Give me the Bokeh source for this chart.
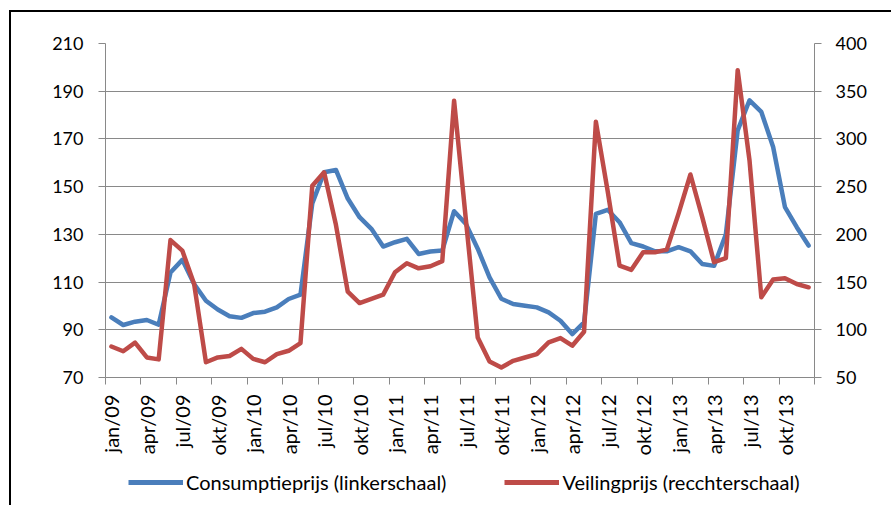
import math
from bokeh.plotting import figure
from bokeh.layouts import column
from bokeh.models import (Range1d, LinearAxis, FixedTicker, Legend, LegendItem)
from bokeh.embed import file_html
from bokeh.resources import INLINE

# ---- data (monthly, jan/09 .. dec/13) ----
consumptieprijs = [95.2, 92, 93.4, 94.1, 92.1, 114, 119.3, 109.2, 102.2, 98.5,
                   95.7, 95, 97, 97.6, 99.4, 102.9, 104.7, 143, 156, 157,
                   145, 137.2, 132.3, 124.9, 126.7, 128.1, 121.8, 122.8, 123.2, 139.7,
                   134.4, 124, 112, 103, 100.8, 100.1, 99.4, 97.3, 93.8, 88.2,
                   93.1, 138.6, 140.3, 135.1, 126.3, 124.9, 122.9, 122.9, 124.6, 122.9,
                   117.6, 116.8, 130, 173.6, 186.2, 181.3, 166.6, 141.4, 133, 125.3]
veilingprijs = [82.5, 77.5, 86.5, 71, 69, 194, 183, 148, 66, 71,
                72.5, 80, 69.5, 66, 74.5, 78, 86, 251, 265, 210,
                140, 128, 132.3, 136.8, 160.3, 169.7, 164.4, 166.6, 172, 340,
                215, 92, 66.8, 60.5, 67.5, 71, 74.5, 86.7, 91.3, 83.3,
                98, 318, 245, 167.3, 162.8, 181.3, 181.3, 184, 222, 262.7,
                218, 170.8, 175, 372, 277.5, 134, 152.6, 154, 148, 144.5]
tick_labels = ["jan/09", "apr/09", "jul/09", "okt/09",
               "jan/10", "apr/10", "jul/10", "okt/10",
               "jan/11", "apr/11", "jul/11", "okt/11",
               "jan/12", "apr/12", "jul/12", "okt/12",
               "jan/13", "apr/13", "jul/13", "okt/13"]
left_ticks = [70, 90, 110, 130, 150, 170, 190, 210]
right_ticks = [50, 100, 150, 200, 250, 300, 350, 400]
series_names = ["Consumptieprijs (linkerschaal)", "Veilingprijs (recchterschaal)"]

months = list(range(len(consumptieprijs)))
label_pos = [3 * k for k in range(len(tick_labels))]
boundary_pos = [3 * k - 0.5 for k in range(len(tick_labels) + 1)]

FONT = "Lato"
GRAY = "#898989"
BLUE = "#4A7EBB"
RED = "#BE4B48"

p = figure(width=880, height=450, output_backend="svg", toolbar_location=None,
           x_range=Range1d(-0.5, len(months) - 0.5), y_range=Range1d(70, 210),
           min_border_left=94, min_border_right=77, min_border_top=31, min_border_bottom=85,
           x_axis_location=None, y_axis_location=None)
p.outline_line_color = None
p.extra_y_ranges = {"right": Range1d(50, 400)}

# x axis
xaxis = LinearAxis(ticker=FixedTicker(ticks=label_pos, minor_ticks=boundary_pos))
xaxis.major_label_overrides = {pos: lab for pos, lab in zip(label_pos, tick_labels)}
xaxis.major_tick_out = 0
xaxis.major_tick_in = 0
xaxis.minor_tick_out = 7
xaxis.minor_tick_in = 0
xaxis.minor_tick_line_color = GRAY
xaxis.axis_line_color = GRAY
xaxis.major_label_orientation = math.pi / 2
xaxis.major_label_standoff = 10
xaxis.major_label_text_font = FONT
xaxis.major_label_text_font_size = "20px"
xaxis.major_label_text_color = "black"
p.add_layout(xaxis, "below")

# left axis
yaxis = LinearAxis(ticker=FixedTicker(ticks=left_ticks))
yaxis.major_tick_out = 7
yaxis.major_tick_in = 0
yaxis.minor_tick_line_color = None
yaxis.major_tick_line_color = GRAY
yaxis.axis_line_color = GRAY
yaxis.major_label_standoff = 15
yaxis.major_label_text_font = FONT
yaxis.major_label_text_font_size = "18px"
yaxis.major_label_text_color = "black"
p.add_layout(yaxis, "left")

# right axis
yaxis2 = LinearAxis(y_range_name="right", ticker=FixedTicker(ticks=right_ticks))
yaxis2.major_tick_out = 7
yaxis2.major_tick_in = 0
yaxis2.minor_tick_line_color = None
yaxis2.major_tick_line_color = GRAY
yaxis2.axis_line_color = GRAY
yaxis2.major_label_standoff = 14
yaxis2.major_label_text_font = FONT
yaxis2.major_label_text_font_size = "18px"
yaxis2.major_label_text_color = "black"
p.add_layout(yaxis2, "right")

p.xgrid.visible = False
p.ygrid.ticker = FixedTicker(ticks=left_ticks)
p.ygrid.grid_line_color = GRAY
p.ygrid.grid_line_width = 1

p.line(months, consumptieprijs, line_color=BLUE, line_width=4.5,
       line_join="round", line_cap="round")
p.line(months, veilingprijs, line_color=RED, line_width=4.5,
       line_join="round", line_cap="round", y_range_name="right")

# legend strip (separate figure so the legend is not clipped)
q = figure(width=880, height=43, output_backend="svg", toolbar_location=None,
           x_range=Range1d(1000, 1001), y_range=Range1d(1000, 1001),
           min_border=0, x_axis_location=None, y_axis_location=None)
q.outline_line_color = None
q.grid.visible = False
q1 = q.line(months, consumptieprijs, line_color=BLUE, line_width=5)
q2 = q.line(months, veilingprijs, line_color=RED, line_width=5)

legend = Legend(items=[LegendItem(label=series_names[0], renderers=[q1]),
                       LegendItem(label=series_names[1], renderers=[q2])],
                orientation="horizontal", location=(23, 11))
legend.padding = 0
legend.margin = 0
legend.spacing = 58
legend.glyph_width = 55
legend.glyph_height = 22
legend.label_height = 22
legend.label_standoff = 3
legend.label_text_font = FONT
legend.label_text_font_size = "20px"
legend.label_text_color = "black"
legend.border_line_color = None
legend.background_fill_alpha = 0
q.add_layout(legend, "center")

layout = column(p, q, spacing=0)
layout.styles = {"border-left": "2px solid black", "border-top": "2px solid black",
                 "margin-left": "9px", "margin-top": "10px"}

open("out.html", "w").write(file_html(layout, INLINE))
